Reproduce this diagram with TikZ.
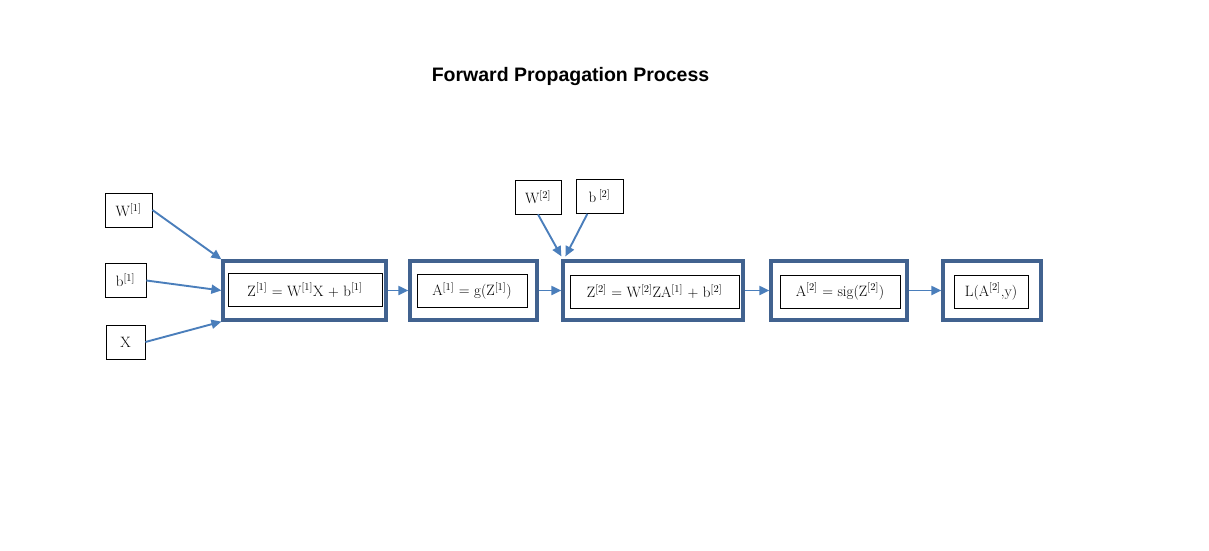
\documentclass[tikz,border=0pt]{standalone}
\usepackage{amsmath}
\usepackage{xcolor}
\usepackage{fontspec}
\newfontfamily\titlefont{Liberation Sans}
\usetikzlibrary{positioning, calc, arrows.meta}
\definecolor{boxblue}{RGB}{65,98,143}
\definecolor{arrowblue}{RGB}{74,126,187}
\newcommand{\lay}[1]{\textsuperscript{[#1]}}
\tikzstyle{outer} = [rectangle, draw=boxblue, line width=3.2pt, minimum width=#1, minimum height=59pt, inner sep=0pt]
\tikzstyle{inner} = [rectangle, draw=black, line width=0.8pt, minimum width=#1, minimum height=33pt, inner sep=0pt, font=\fontsize{15}{18}\selectfont]
\tikzstyle{param} = [rectangle, draw=black, line width=0.8pt, minimum width=#1, minimum height=34pt, inner sep=0pt, font=\fontsize{15}{18}\selectfont]
\tikzstyle{flow} = [draw=arrowblue, line width=1.9pt, -{Triangle[length=10pt,width=9pt]}]

\begin{document}
\begin{tikzpicture}[x=1pt, y=-1pt]
		\useasboundingbox (0,0) rectangle (1209,550);
		\node[font=\titlefont\bfseries\fontsize{19.5}{23}\selectfont] (title) at (570.5,76) {Forward Propagation Process};
		% inputs of the first layer
		\node[param=47pt] (w1) at (128.5,210) {W\lay{1}};
		\node[param=41pt] (b1) at (125.5,280.5) {b\lay{1}};
		\node[param=39pt] (x) at (125.5,342) {X};
		% layer boxes
		\node[outer=163pt] (o1) at (304.5,290.5) {};
		\node[inner=154pt] (z1) at (305,290) {Z\lay{1} = W\lay{1}X + b\lay{1}};
		\node[outer=127pt] (o2) at (473.5,290.5) {};
		\node[inner=110pt] (a1) at (472,291) {A\lay{1} = g(Z\lay{1})};
		\node[outer=180pt] (o3) at (653,290.5) {};
		\node[inner=169pt] (z2) at (654.5,291.5) {Z\lay{2} = W\lay{2}ZA\lay{1} + b\lay{2}};
		\node[outer=136pt] (o4) at (839,290.5) {};
		\node[inner=120pt] (a2) at (840,291.5) {A\lay{2} = sig(Z\lay{2})};
		\node[outer=98pt] (o5) at (992,290.5) {};
		\node[inner=74pt] (loss) at (991,291.5) {L(A\lay{2},y)};
		% inputs of the second layer
		\node[param=46pt] (w2) at (538,197) {W\lay{2}};
		\node[param=47pt] (b2) at (599.5,196.5) {b\,\lay{2}};
		% connectors
		\draw[flow] (w1.east) -- (o1.north west);
		\draw[flow] (b1.east) -- (o1.west);
		\draw[flow] (x.east) -- (o1.south west);
		\draw[flow] (w2.south) -- ($(o3.north west)+(0,-3)$);
		\draw[flow] (b2.235) -- ($(o3.north west)+(4,-3)$);
		\draw[flow] (o1.east) -- (o2.west);
		\draw[flow] (o2.east) -- (o3.west);
		\draw[flow] (o3.east) -- (o4.west);
		\draw[flow] (o4.east) -- (o5.west);
	\end{tikzpicture}
\end{document}
